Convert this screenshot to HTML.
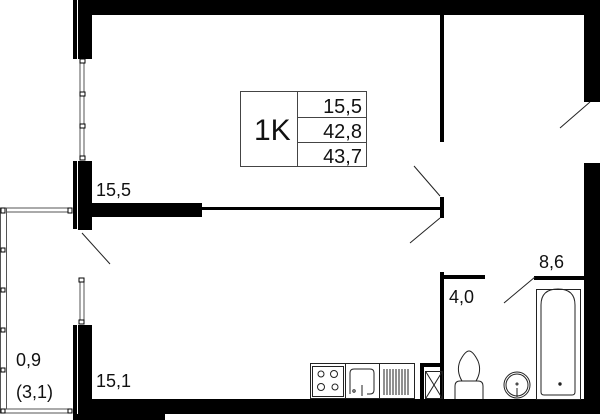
<!DOCTYPE html>
<html><head><meta charset="utf-8"><style>
html,body{margin:0;padding:0;background:#fff;width:600px;height:420px;overflow:hidden}
text{font-family:"Liberation Sans",sans-serif;fill:#111}
</style></head><body>
<svg width="600" height="420" viewBox="0 0 600 420" xmlns="http://www.w3.org/2000/svg">
<g fill="#000">
<rect x="78" y="0" width="522" height="15"/>
<rect x="73" y="0" width="4" height="59"/>
<rect x="78" y="0" width="14" height="59"/>
<rect x="73" y="161" width="4" height="68"/>
<rect x="78" y="161" width="14" height="69"/>
<rect x="92" y="203" width="110" height="14"/>
<rect x="201" y="207" width="242" height="3"/>
<rect x="440" y="197" width="4" height="21"/>
<rect x="73" y="325" width="4" height="95"/>
<rect x="78" y="325" width="14" height="76"/>
<rect x="78" y="399" width="522" height="15"/>
<rect x="73" y="414" width="92" height="6"/>
<rect x="440" y="15" width="4" height="127"/>
<rect x="584" y="15" width="16" height="87"/>
<rect x="584" y="163" width="16" height="237"/>
<rect x="440" y="272" width="4" height="128"/>
<rect x="440" y="275" width="45" height="4"/>
<rect x="534" y="276" width="50" height="4"/>
<rect x="420" y="363" width="24" height="4"/>
<rect x="420" y="363" width="4" height="37"/>
</g>
<g fill="#fff" stroke="#555" stroke-width="1">
<rect x="80" y="59" width="4" height="101"/>
<rect x="80" y="278" width="4" height="44"/>
<rect x="0.5" y="208" width="70" height="4"/>
<rect x="0.5" y="208" width="6" height="204"/>
<rect x="0.5" y="409" width="70" height="4"/>
</g>
<g fill="#fff" stroke="#000" stroke-width="1">
<rect x="80" y="59" width="5" height="4"/><rect x="80" y="92" width="5" height="4"/><rect x="80" y="124" width="5" height="4"/><rect x="80" y="156" width="5" height="4"/>
<rect x="79" y="278" width="5" height="4"/><rect x="79" y="320" width="5" height="4"/>
<rect x="68" y="208" width="4" height="5"/><rect x="1" y="208" width="4" height="5"/>
<rect x="1" y="248" width="4" height="4"/><rect x="1" y="288" width="4" height="4"/><rect x="1" y="328" width="4" height="4"/><rect x="1" y="368" width="4" height="4"/><rect x="1" y="409" width="4" height="4"/><rect x="68" y="409" width="4" height="4"/>
</g>
<g stroke="#222" stroke-width="1">
<line x1="82" y1="233" x2="110" y2="264"/>
<line x1="560" y1="128" x2="590" y2="102"/>
<line x1="414" y1="166" x2="440" y2="196"/>
<line x1="440" y1="218" x2="410" y2="243"/>
<line x1="504" y1="303" x2="535" y2="277"/>
</g>
<g fill="none" stroke="#444" stroke-width="1">
<rect x="240.5" y="91.5" width="126" height="75"/>
<line x1="297.5" y1="91" x2="297.5" y2="167"/>
<line x1="297" y1="117.5" x2="367" y2="117.5"/>
<line x1="297" y1="142.5" x2="367" y2="142.5"/>
</g>
<text x="254" y="140" font-size="30">1K</text>
<g font-size="20" text-anchor="end">
<text x="362" y="113">15,5</text>
<text x="362" y="138">42,8</text>
<text x="362" y="163">43,7</text>
</g>
<g font-size="18">
<text x="96" y="196">15,5</text>
<text x="96" y="387">15,1</text>
<text x="16" y="366">0,9</text>
<text x="16" y="398">(3,1)</text>
<text x="539" y="268">8,6</text>
<text x="449" y="303">4,0</text>
</g>
<g fill="none" stroke="#222" stroke-width="1">
<rect x="310.5" y="363.5" width="104" height="35"/>
<rect x="312.5" y="366.5" width="31" height="30"/>
<line x1="345.5" y1="364" x2="345.5" y2="398"/>
<line x1="379.5" y1="364" x2="379.5" y2="398"/>
<circle cx="321" cy="374" r="3"/><circle cx="334" cy="374" r="3.5"/><circle cx="321" cy="387" r="3.5"/><circle cx="335" cy="387" r="3"/>
<path d="M350 394 V373 q0-4 4-4 h16 q4 0 4 4 V390 q0 4-4 4 h-3"/>
<circle cx="354" cy="391" r="1.2"/>
<line x1="362" y1="385" x2="362" y2="396"/>
<g><line x1="384" y1="369" x2="384" y2="395"/><line x1="387" y1="369" x2="387" y2="395"/><line x1="390" y1="369" x2="390" y2="395"/><line x1="393" y1="369" x2="393" y2="395"/><line x1="396" y1="369" x2="396" y2="395"/><line x1="399" y1="369" x2="399" y2="395"/><line x1="402" y1="369" x2="402" y2="395"/><line x1="405" y1="369" x2="405" y2="395"/><line x1="408" y1="369" x2="408" y2="395"/></g>
<rect x="425.5" y="371.5" width="17" height="27"/>
<line x1="426" y1="372" x2="442" y2="398"/><line x1="442" y1="372" x2="426" y2="398"/>
<path d="M455 399 V386 q0-5 5-5 h18 q5 0 5 5 V399"/>
<path d="M462 381 q-6-10-2-20 q5-10 9-10 q4 0 9 10 q4 10-2 20"/>
<circle cx="517" cy="385" r="13"/><circle cx="517" cy="385" r="11"/>
<line x1="517" y1="388" x2="517" y2="397"/><circle cx="517" cy="384" r="1"/>
<rect x="536.5" y="289.5" width="44" height="110"/>
<path d="M541 392 V305 q0-16 17-16 q17 0 17 16 V392 q0 3-3 3 H544 q-3 0-3-3z"/>
<circle cx="560" cy="384" r="1.2" fill="#222"/>
</g>
</svg>
</body></html>
